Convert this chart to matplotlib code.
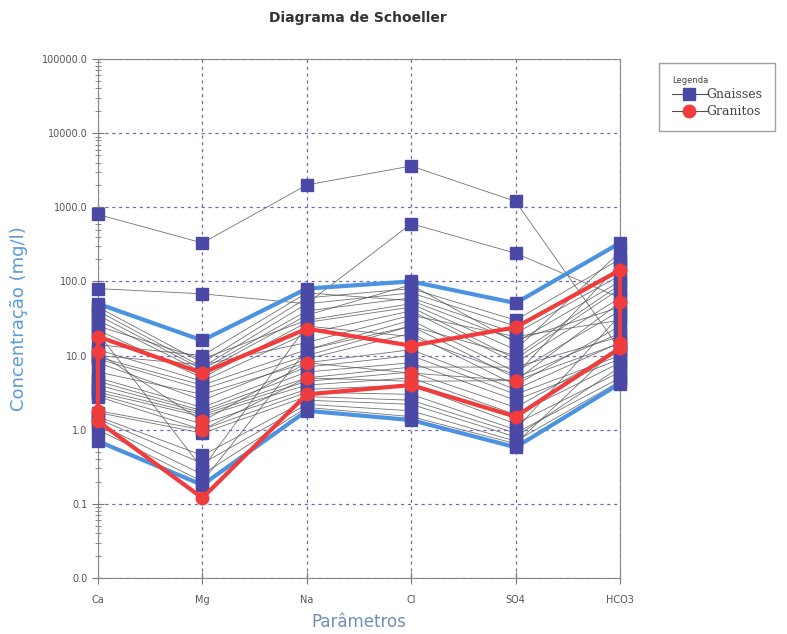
import matplotlib.pyplot as plt
from matplotlib.lines import Line2D
from matplotlib.ticker import FuncFormatter, FixedLocator, NullFormatter

params = ["Ca", "Mg", "Na", "Cl", "SO4", "HCO3"]

# Gnaisses samples (mg/l), columns follow params
gnaisses = [
    [800, 330, 2000, 3600, 1200, 12],
    [80, 68, 50, 600, 240, 60],
    [50, 16, 80, 100, 51, 330],
    [0.7, 0.18, 1.8, 1.35, 0.58, 4.2],
    [45, 8, 60, 80, 30, 200],
    [40, 7, 50, 70, 25, 150],
    [35, 6.5, 40, 60, 20, 120],
    [30, 6, 35, 90, 15, 100],
    [25, 9, 30, 50, 12, 250],
    [22, 5, 28, 45, 9, 80],
    [12, 4.5, 20, 40, 8, 60],
    [10, 7.5, 15, 35, 18, 30],
    [9.5, 4, 12, 30, 6, 40],
    [9, 3.5, 10, 25, 5, 20],
    [8, 2.5, 9, 20, 4, 25],
    [6, 3, 8, 12, 3.5, 15],
    [5, 2, 7, 10, 3, 10],
    [4.5, 1.8, 6, 8, 2.5, 9],
    [4, 1.7, 5, 7, 7, 18],
    [3.5, 1.6, 4.5, 6, 2, 12],
    [3.2, 1.5, 4, 5, 1.6, 8],
    [3, 1.2, 3.5, 4, 1.2, 6],
    [2.8, 1.0, 3.2, 3, 1.0, 35],
    [1.7, 0.9, 2.8, 2.5, 0.9, 5],
    [1.5, 0.45, 2.5, 2.2, 0.8, 7],
    [1.4, 0.35, 2.2, 1.8, 0.7, 4.5],
    [1.2, 0.25, 2.0, 1.5, 0.65, 14],
    [1.0, 0.2, 12, 25, 10, 90],
    [14, 10, 70, 55, 16, 45],
    [20, 0.3, 25, 18, 5.5, 170],
]

# Granitos samples (mg/l)
granitos = [
    [18, 5.8, 23, 13.6, 24, 142],
    [11, 1.3, 8, 5.8, 4.6, 52],
    [1.8, 1.0, 5, 4.5, 4.6, 14.6],
    [1.3, 0.12, 3, 4.0, 1.5, 12.6],
]

# envelopes (upper and lower bounds)
gn_upper = [50, 16, 80, 100, 51, 330]
gn_lower = [0.7, 0.18, 1.8, 1.35, 0.58, 4.2]
gr_upper = [18, 5.8, 23, 13.6, 24, 142]
gr_lower = [1.3, 0.12, 3, 4.0, 1.5, 12.6]

y_ticks = [0.01, 0.1, 1, 10, 100, 1000, 10000, 100000]

sq_color = "#4a4aa6"
red = "#f03c3c"
env_blue = "#4b93e0"
line_gray = "#505050"

fig = plt.figure(figsize=(7.87, 6.34), dpi=100)
ax = fig.add_axes([0.1245, 0.0883, 0.6633, 0.8187])

x = list(range(len(params)))

for row in gnaisses + granitos:
    ax.plot(x, row, color=line_gray, lw=0.6, alpha=0.8, zorder=1)


def closed(upper, lower):
    xs = x + x[::-1] + [x[0]]
    ys = upper + lower[::-1] + [upper[0]]
    return xs, ys


xs, ys = closed(gn_upper, gn_lower)
ax.plot(xs, ys, color=env_blue, lw=3, zorder=2, solid_joinstyle="miter", clip_on=False)

for row in gnaisses:
    ax.plot(x, row, ls="none", marker="s", ms=9, mfc=sq_color, mec=sq_color,
            zorder=3, clip_on=False)

xs, ys = closed(gr_upper, gr_lower)
ax.plot(xs, ys, color=red, lw=3, zorder=4, solid_joinstyle="miter", clip_on=False)

for row in granitos:
    ax.plot(x, row, ls="none", marker="o", ms=9, mfc=red, mec=red,
            zorder=5, clip_on=False)

ax.set_yscale("log")
ax.set_ylim(0.01, 100000)
ax.set_xlim(0, 5)
ax.set_xticks(x)
ax.set_xticklabels(params)
minor = [d * m for d in y_ticks[:-1] for m in range(2, 10)]
ax.yaxis.set_major_locator(FixedLocator(y_ticks))
ax.yaxis.set_minor_locator(FixedLocator(minor))
ax.yaxis.set_major_formatter(FuncFormatter(lambda v, p: "%.1f" % v))
ax.yaxis.set_minor_formatter(NullFormatter())

ax.grid(True, which="major", color="#6b6bb5", ls=(0, (2.5, 3)), lw=0.9)
for s in ax.spines.values():
    s.set_color("#888888")
ax.tick_params(axis="both", which="both", colors="#777777", labelcolor="#555555",
               labelsize=7, direction="inout")
ax.tick_params(axis="y", which="minor", length=4)
ax.tick_params(axis="y", which="major", length=8)
ax.tick_params(axis="x", length=8, pad=8)

fig.text(0.455, 0.971, "Diagrama de Schoeller", ha="center", va="center",
         fontsize=10, fontweight="bold", color="#333333")
ax.set_ylabel("Concentração (mg/l)", color="#5a9bd8", fontsize=13, labelpad=10)
ax.set_xlabel("Parâmetros", color="#6f8fb8", fontsize=12, labelpad=6)

handles = [
    Line2D([], [], color=line_gray, lw=0.8, marker="s", ms=9, mfc=sq_color, mec=sq_color),
    Line2D([], [], color=line_gray, lw=0.8, marker="o", ms=9, mfc=red, mec=red),
]
leg = ax.legend(handles, ["Gnaisses", "Granitos"], title="Legenda",
                loc="upper left", bbox_to_anchor=(1.063, 1.004),
                fancybox=False, edgecolor="#888888", frameon=True,
                prop={"family": "DejaVu Serif", "size": 9}, handlelength=2.8,
                handletextpad=0.0, borderpad=1.0, labelspacing=0.3)
leg.get_title().set_fontsize(6)
leg.get_title().set_color("#444444")
leg._legend_box.align = "left"
for t in leg.get_texts():
    t.set_color("#444444")

fig.savefig("out.png", dpi=100)
